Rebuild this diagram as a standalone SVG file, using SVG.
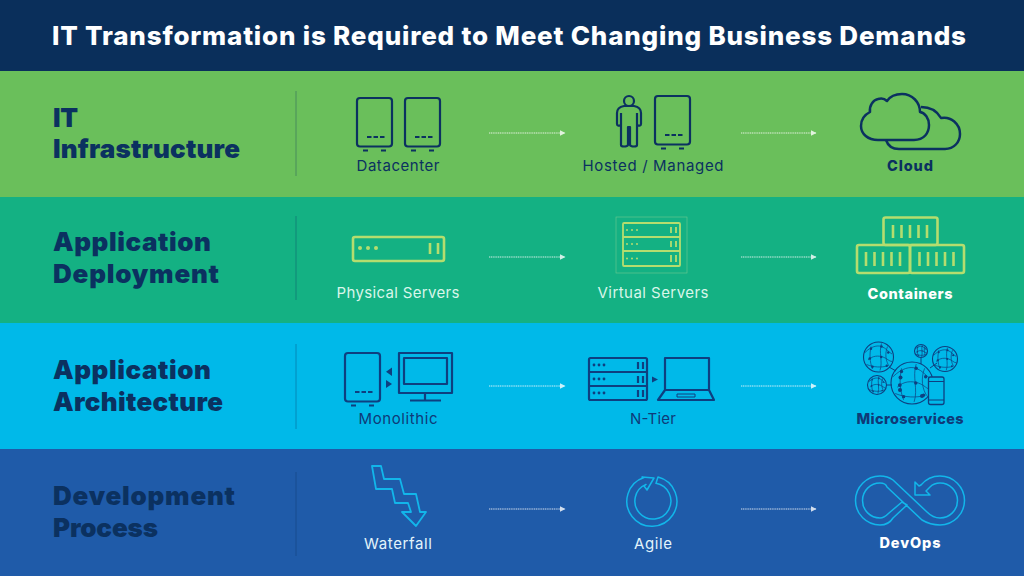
<svg xmlns="http://www.w3.org/2000/svg" xmlns:xlink="http://www.w3.org/1999/xlink" width="1024" height="576" viewBox="0 0 1024 576">
<style>
text{font-family:Inter,"Open Sans","Liberation Sans",sans-serif}
.title{font-size:26px;font-weight:800;fill:#fff}
.head{font-size:26px;font-weight:900}
.lab{font-size:15px;font-weight:400;text-anchor:middle}
.bold{font-size:14.5px;font-weight:800;text-anchor:middle}
.navy{fill:#0b3160}.dblue{fill:#0f3a78}.lite{fill:#d9f6ea}.white{fill:#fff}.pale{fill:#e3f4fb}
.ic{fill:none;stroke-linejoin:round}
.n{stroke:#0b3160;stroke-width:2.200}
.b{stroke:#0e3f80;stroke-width:2.200}
.g{stroke:#b5dd6e;stroke-width:2.600}
.c{stroke:#12b6ea;stroke-width:1.500}
.div{stroke:#0b3160;stroke-width:1;opacity:.35}
.arr{fill:none;stroke:#fff;stroke-width:1;stroke-dasharray:1.200 .6;opacity:.8;marker-end:url(#tip)}
.net,.ring{fill:none;stroke:#0e3f80;vector-effect:non-scaling-stroke}
.net{stroke-width:.7}
.ring{stroke-width:1.100}
</style>
<defs>
<marker id="tip" viewBox="0 0 6 6" refX="5.500" refY="3" markerWidth="6" markerHeight="6" markerUnits="userSpaceOnUse" orient="auto"><path d="M0 0L6 3L0 6Z" fill="#fff"/></marker>
<g id="srv"><rect x="0" y="0" width="35" height="48.500" rx="3"/><path d="M10 39h4.500M16.500 39h4.500M23 39h4.500M6 52.500h5M24 52.500h5"/></g>
<g id="globe"><circle class="ring" r="10"/><path class="net" d="M-9-3C-5-7 -1-8 2-7S7-3 9-2M-7 2C-4-1 0-1 3 0S7 3 9 3M-5-7C-6-2-6 3-4 8M2-9C0-3 3 3 1 9M6-7C4-2 5 3 7 6M-8 5C-3 7 2 7 6 6"/><g fill="#0e3f80" stroke="none"><circle cx="-5" cy="-5.500" r=".8"/><circle cx="2" cy="-7" r=".8"/><circle cx="6.500" cy="-3" r=".8"/><circle cx="-5.800" cy="1" r=".9"/><circle cx="1.800" cy="0" r=".8"/><circle cx="-4" cy="6.500" r=".8"/><circle cx="5.500" cy="5.800" r=".8"/></g></g>
</defs>

<rect width="1024" height="72" fill="#0a2f5b"/>
<rect y="71" width="1024" height="127" fill="#6abf5b"/>
<rect y="197" width="1024" height="127" fill="#14b183"/>
<rect y="323" width="1024" height="127" fill="#00b9e9"/>
<rect y="449" width="1024" height="127" fill="#1f5ba9"/>

<text class="title" x="52" y="45" textLength="914">IT Transformation is Required to Meet Changing Business Demands</text>

<g id="row-infrastructure"><text class="head navy" x="53" y="127" textLength="25">IT</text><text class="head navy" x="53" y="158" textLength="187">Infrastructure</text><line class="div" x1="296" y1="91" x2="296" y2="176"/></g>
<g id="row-deployment"><text class="head navy" x="53" y="251" textLength="158">Application</text><text class="head navy" x="53" y="283" textLength="166">Deployment</text><line class="div" x1="296" y1="216" x2="296" y2="300"/></g>
<g id="row-architecture"><text class="head navy" x="53" y="379" textLength="158">Application</text><text class="head navy" x="53" y="411" textLength="170">Architecture</text><line class="div" x1="296" y1="344" x2="296" y2="429"/></g>
<g id="row-process"><text class="head navy" x="53" y="505" textLength="182">Development</text><text class="head navy" x="53" y="537" textLength="105">Process</text><line class="div" x1="296" y1="472" x2="296" y2="556"/></g>

<g id="connectors">
<path class="arr" d="M489 133H565"/><path class="arr" d="M741 133H816"/>
<path class="arr" d="M489 257H565"/><path class="arr" d="M741 257H816"/>
<path class="arr" d="M489 386H565"/><path class="arr" d="M741 386H816"/>
<path class="arr" d="M489 509H565"/><path class="arr" d="M741 509H816"/>
</g>

<g id="datacenter"><g class="ic n"><use href="#srv" x="357" y="98"/><use href="#srv" x="405" y="98"/></g><text class="lab navy" x="398" y="171" textLength="83">Datacenter</text></g>

<g id="hosted"><g class="ic n"><circle cx="629" cy="101" r="5"/><path d="M624 106C619 107 617 109 617 113V124C617 126 619 126 621 125V145C621 147 627 147 628 145V127H630V145C631 147 637 147 637 145V125C639 126 641 126 641 124V113C641 109 639 107 634 106Z"/><path d="M621 113V125M637 113V125"/><use href="#srv" x="655" y="96"/></g><text class="lab navy" x="653" y="171" textLength="141">Hosted / Managed</text></g>

<g id="cloud"><g class="ic n" style="stroke-width:2.500"><path d="M878 140H914C924 140 929 133 929 125C929 118 925 113 920 112C920 102 912 94 902 94C893 94 889 98 887 101C884 98 881 98 878 99C873 100 869 106 870 112C864 115 861 120 861 126C861 134 868 140 878 140Z"/><path d="M886 140C888 146 893 149 899 149H945C954 149 960 142 960 134C960 124 951 116 941 118C937 111 930 107 921 107"/></g><text class="bold navy" x="910" y="171" textLength="46">Cloud</text></g>

<g id="physical"><g class="ic g"><rect x="353" y="237" width="91" height="24" rx="2"/><path d="M430 243V254M438 243V254"/></g><g fill="#b5dd6e"><circle cx="360" cy="248" r="2"/><circle cx="368" cy="248" r="2"/><circle cx="376" cy="248" r="2"/></g><text class="lab lite" x="398" y="298" textLength="123">Physical Servers</text></g>

<g id="virtual"><rect x="616" y="217" width="71" height="56" fill="none" stroke="#6fc98f" stroke-width=".6"/><g class="ic g" style="stroke-width:1.800"><rect x="623" y="223" width="57" height="43" rx="1"/><path d="M623 237H680M623 251H680M671 227V233M676 227V233M671 241V247M676 241V247M671 255V262M676 255V262"/></g><g fill="#b5dd6e"><circle cx="627" cy="230" r="1"/><circle cx="632" cy="230" r="1"/><circle cx="637" cy="230" r="1"/><circle cx="627" cy="244" r="1"/><circle cx="632" cy="244" r="1"/><circle cx="637" cy="244" r="1"/><circle cx="627" cy="258.500" r="1"/><circle cx="632" cy="258.500" r="1"/><circle cx="637" cy="258.500" r="1"/></g><text class="lab lite" x="653" y="298" textLength="111">Virtual Servers</text></g>

<g id="containers"><g class="ic g"><rect x="883.500" y="217.500" width="54" height="27.500" rx="2"/><rect x="857" y="245" width="53" height="28" rx="2"/><rect x="910" y="245" width="54" height="28" rx="2"/><path d="M893 225V238M901.500 225V238M910 225V238M918.500 225V238M927 225V238M866 252V266M874.500 252V266M883 252V266M891.500 252V266M900 252V266M919.500 252V266M928 252V266M936.500 252V266M945 252V266M953.500 252V266"/></g><text class="bold white" x="910" y="299" textLength="85">Containers</text></g>

<g id="monolithic"><g class="ic b"><use href="#srv" x="345" y="353"/><rect x="399" y="353" width="53" height="40"/><rect x="404" y="358" width="43" height="26"/><path d="M425 393V400M410 400.500H441"/></g><path d="M392 367.500V376L386 371.700ZM386 380V388L392 384Z" fill="#0e3f80"/><text class="lab dblue" x="398" y="424" textLength="79">Monolithic</text></g>

<g id="ntier"><g class="ic b"><rect x="589" y="358" width="58" height="42" rx="1.500"/><path d="M589 372H647M589 386H647M638 362V369M643 362V369M638 376V383M643 376V383M638 390V397M643 390V397"/><path d="M665 390V358H709V390M665 390H709L714 400H658Z"/><rect x="677" y="394" width="18" height="3" style="stroke-width:1"/></g><g fill="#0e3f80"><circle cx="594" cy="365" r="1.400"/><circle cx="599" cy="365" r="1.400"/><circle cx="604" cy="365" r="1.400"/><circle cx="594" cy="379" r="1.400"/><circle cx="599" cy="379" r="1.400"/><circle cx="604" cy="379" r="1.400"/><circle cx="594" cy="393" r="1.400"/><circle cx="599" cy="393" r="1.400"/><circle cx="604" cy="393" r="1.400"/><path d="M652 376.500V382.500L658 379.500Z"/></g><text class="lab dblue" x="653" y="424" textLength="46">N-Tier</text></g>

<g id="microservices"><g class="ic" stroke="#0e3f80" stroke-width="1"><path d="M889 367L896 371M887 385H892M921 358V364M930 368L937 363"/><use href="#globe" transform="translate(878.500 357) scale(1.500)"/><use href="#globe" transform="translate(921 351) scale(.65)"/><use href="#globe" transform="translate(945 359) scale(1.250)"/><use href="#globe" transform="translate(877 385) scale(.95)"/><use href="#globe" transform="translate(912 383) scale(2.100)"/><rect x="928.500" y="377" width="15.500" height="27.500" rx="2" fill="#00b9e9" stroke-width="1.300"/><path d="M928.500 381.500H944M928.500 400H944"/></g><g fill="#0e3f80"><circle cx="900.500" cy="377.500" r="2"/><circle cx="900" cy="390" r="2"/><circle cx="922" cy="396" r="2"/></g><text class="bold dblue" x="910" y="424" textLength="107">Microservices</text></g>

<g id="waterfall"><path class="ic c" style="stroke-width:1.800" d="M372 466H381L384 479H400L404 494H416L420 512H426L416 526L402 512H411L408 503H395L392 489H376Z"/><text class="lab pale" x="398" y="549" textLength="68">Waterfall</text></g>

<g id="agile"><path class="ic c" d="M658 477A25 25 0 1 1 644 477.500L642 477L654 478L647 490L644 486L646 484.400A18 18 0 1 0 656 483.300Z"/><text class="lab pale" x="653" y="549" textLength="38">Agile</text></g>

<g id="devops"><path class="ic c" d="M921 485C926 479 933 476 940 476A24.500 24.500 0 0 1 940 525C933 525 927 523 922 520L887 487C886 484 884 483 880 483A17.500 17.500 0 0 0 880 518C884 518 886 516 889 513L902 502L907 505L893 518C890 523 886 525 880 525A24.500 24.500 0 0 1 880 476C886 476 889 477 893 480L927 512C931 516 935 518 940 518A17.500 17.500 0 0 0 940 483C936 483 933 484 930 487L926 491L930 495H915V482L919 486Z"/><text class="bold white" x="910" y="548" textLength="61">DevOps</text></g>
</svg>
